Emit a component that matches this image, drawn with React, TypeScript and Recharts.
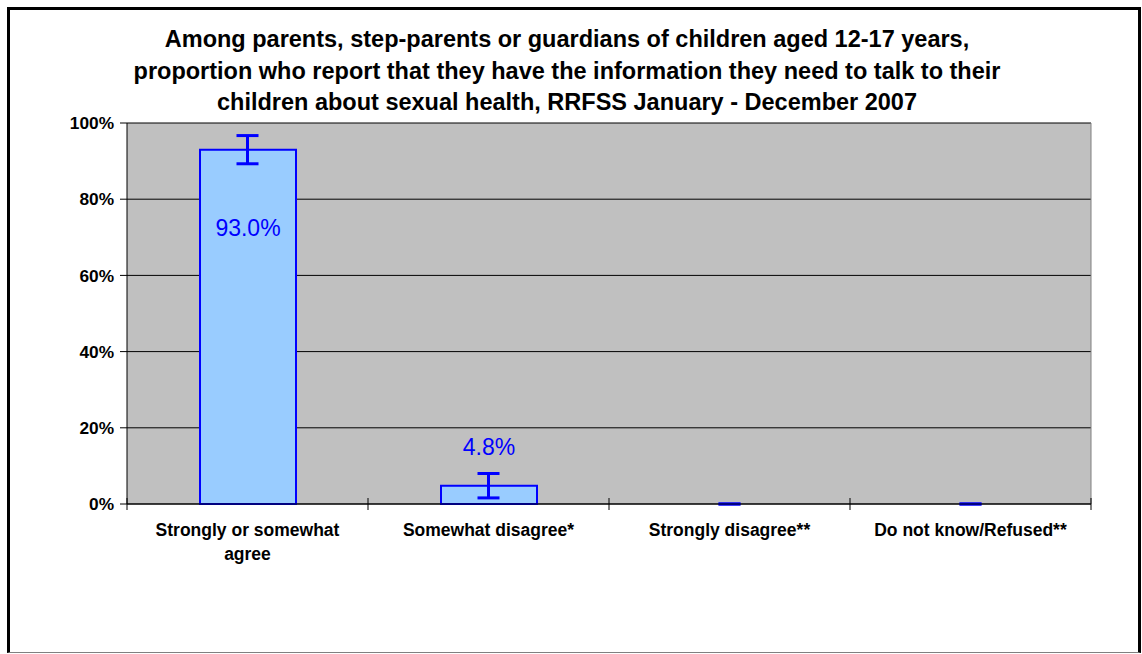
import React from "react";
import {
  ComposedChart,
  Bar,
  Scatter,
  XAxis,
  YAxis,
  CartesianGrid,
  ErrorBar,
  LabelList,
  Text,
} from "recharts";

const categories = [
  "Strongly or somewhat agree",
  "Somewhat disagree*",
  "Strongly disagree**",
  "Do not know/Refused**",
];
const percents = [93.0, 4.8, 0, 0];
const ciLow = [89.3, 1.6, 0, 0];
const ciHigh = [96.7, 8.0, 0, 0];
const yTicks = [0, 20, 40, 60, 80, 100];
const titleLines = [
  "Among parents, step-parents or guardians of children aged 12-17 years,",
  "proportion who report that they have the information they need to talk to their",
  "children about sexual health, RRFSS January - December 2007",
];

const data = categories.map((name, i) => ({
  name,
  value: percents[i],
  err: [percents[i] - ciLow[i], ciHigh[i] - percents[i]],
}));

const FONT = "Arial, 'Liberation Sans', sans-serif";
const BLUE = "#0000FF";

function CategoryTick(props: any) {
  const { x, y, payload, index } = props;
  const half = payload.offset ?? 0;
  const last = index === categories.length - 1;
  return (
    <g>
      <line x1={x - half} x2={x - half} y1={y - 6} y2={y + 6} stroke="#000" />
      {last && <line x1={x + half} x2={x + half} y1={y - 6} y2={y + 6} stroke="#000" />}
      <Text
        x={x}
        y={y + 20}
        width={215}
        lineHeight={24}
        textAnchor="middle"
        verticalAnchor="start"
        style={{ fontFamily: FONT, fontSize: 17.5, fontWeight: "bold", fill: "#000" }}
      >
        {payload.value}
      </Text>
    </g>
  );
}

function ValueLabel(props: any) {
  const { x, y, width, value } = props;
  if (!value) return null;
  const ty = value > 50 ? y + 86 : y - 31;
  return (
    <text
      x={x + width / 2}
      y={ty}
      textAnchor="middle"
      style={{ fontFamily: FONT, fontSize: 23, fill: BLUE }}
    >
      {value.toFixed(1) + "%"}
    </text>
  );
}

const NoDot = () => <g />;

export default function App() {
  return (
    <div style={{ position: "absolute", left: 0, top: 0, width: 1142, height: 654, background: "#fff" }}>
      <div
        style={{
          position: "absolute",
          left: 7,
          top: 7,
          width: 1134,
          height: 646,
          boxSizing: "border-box",
          borderLeft: "3px solid #000",
          borderTop: "3px solid #000",
          borderRight: "3px solid #000",
          borderBottom: "1px solid #808080",
        }}
      />
      <div
        style={{
          position: "absolute",
          left: 0,
          top: 24,
          width: 1134,
          textAlign: "center",
          fontFamily: FONT,
          fontWeight: "bold",
          fontSize: 23.5,
          lineHeight: "31.7px",
          color: "#000",
        }}
      >
        {titleLines.map((t) => (
          <div key={t}>{t}</div>
        ))}
      </div>
      <div style={{ position: "absolute", left: 0, top: 0 }}>
        <ComposedChart
          width={1142}
          height={654}
          data={data}
          margin={{ top: 123, right: 51, bottom: 120, left: 0 }}
        >
          <CartesianGrid fill="#C0C0C0" stroke="#000" vertical={false} />
          <CartesianGrid
            horizontal={false}
            stroke="#808080"
            verticalCoordinatesGenerator={(p: any) => [p.offset.left + p.offset.width]}
          />
          <XAxis
            dataKey="name"
            height={30}
            axisLine={{ stroke: "#000" }}
            tickLine={false}
            tickSize={0}
            tickMargin={0}
            interval={0}
            tick={<CategoryTick />}
          />
          <YAxis
            width={127}
            domain={[0, 100]}
            ticks={yTicks}
            tickFormatter={(v) => v + "%"}
            axisLine={{ stroke: "#000" }}
            tickLine={{ stroke: "#000" }}
            tickSize={7}
            tickMargin={6}
            tick={{ fontFamily: FONT, fontSize: 17.3, fontWeight: "bold", fill: "#000" }}
          />
          <Bar
            dataKey="value"
            fill="#99CCFF"
            stroke={BLUE}
            strokeWidth={2}
            barSize={96}
            isAnimationActive={false}
          >
            <LabelList dataKey="value" content={<ValueLabel />} />
          </Bar>
          <Scatter dataKey="value" shape={<NoDot />} isAnimationActive={false}>
            <ErrorBar dataKey="err" width={11} stroke={BLUE} strokeWidth={3} direction="y" />
          </Scatter>
        </ComposedChart>
      </div>
    </div>
  );
}
